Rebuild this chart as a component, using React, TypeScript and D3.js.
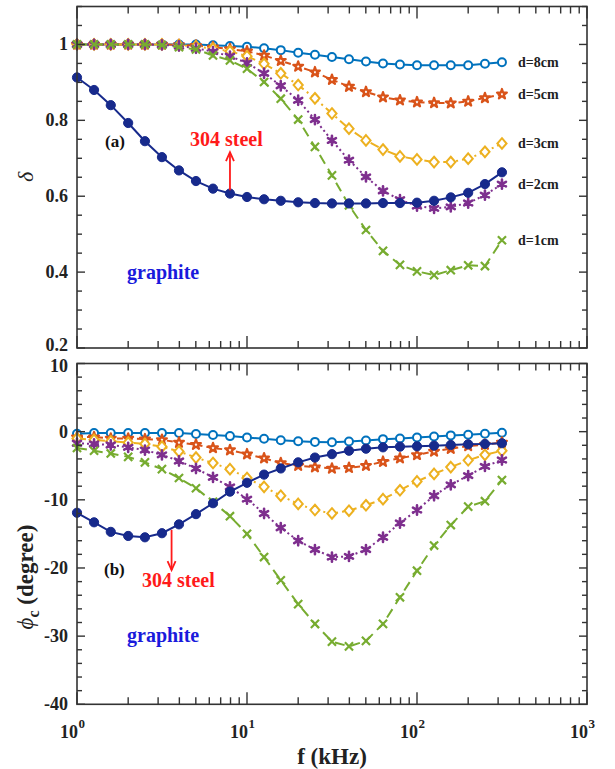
import React from 'react';
import * as d3 from 'd3';

const freq = [1, 1.26, 1.58, 2, 2.51, 3.16, 3.98, 5.01, 6.31, 7.94, 10, 12.6, 15.8, 20, 25.1, 31.6, 39.8, 50.1, 63.1, 79.4, 100, 126, 158, 200, 251, 316];

const deltaGraphite = [0.913, 0.88, 0.84, 0.793, 0.745, 0.703, 0.668, 0.64, 0.62, 0.607, 0.598, 0.592, 0.588, 0.584, 0.582, 0.581, 0.581, 0.581, 0.582, 0.582, 0.583, 0.588, 0.597, 0.609, 0.632, 0.663];
const deltaD8 = [1, 1, 1, 1, 1, 1, 1, 1, 0.998, 0.996, 0.994, 0.99, 0.985, 0.978, 0.973, 0.967, 0.961, 0.955, 0.95, 0.947, 0.945, 0.945, 0.945, 0.945, 0.949, 0.953];
const deltaD5 = [1, 1, 1, 1, 1, 1, 0.999, 0.997, 0.993, 0.988, 0.982, 0.971, 0.957, 0.942, 0.927, 0.907, 0.889, 0.875, 0.861, 0.853, 0.848, 0.846, 0.845, 0.85, 0.859, 0.869];
const deltaD3 = [1, 1, 1, 1, 1, 1, 0.998, 0.995, 0.989, 0.982, 0.969, 0.949, 0.924, 0.893, 0.858, 0.818, 0.778, 0.747, 0.723, 0.705, 0.697, 0.69, 0.69, 0.699, 0.717, 0.739];
const deltaD2 = [1, 1, 1, 1, 1, 0.999, 0.996, 0.99, 0.981, 0.969, 0.951, 0.924, 0.891, 0.853, 0.802, 0.747, 0.695, 0.651, 0.614, 0.591, 0.574, 0.568, 0.572, 0.582, 0.603, 0.632];
const deltaD1 = [1, 1, 1, 1, 1, 0.998, 0.993, 0.987, 0.971, 0.958, 0.936, 0.901, 0.857, 0.802, 0.73, 0.655, 0.576, 0.511, 0.456, 0.419, 0.402, 0.392, 0.405, 0.418, 0.416, 0.484];

const phiGraphite = [-11.9, -13.3, -14.7, -15.3, -15.5, -14.9, -13.6, -12.1, -10.5, -8.8, -7.5, -6.3, -5.4, -4.5, -3.8, -3.3, -2.8, -2.5, -2.3, -2.2, -2.15, -2.05, -1.95, -1.85, -1.8, -1.7];
const phiD8 = [-0.3, -0.2, -0.2, -0.2, -0.2, -0.2, -0.2, -0.35, -0.5, -0.65, -0.85, -1.05, -1.25, -1.4, -1.5, -1.55, -1.45, -1.3, -1.1, -1.0, -0.85, -0.7, -0.55, -0.45, -0.3, -0.15];
const phiD5 = [-0.8, -0.8, -1.0, -1.0, -1.1, -1.2, -1.6, -1.9, -2.4, -2.7, -3.3, -3.9, -4.6, -5.0, -5.2, -5.4, -5.3, -5.0, -4.4, -3.9, -3.4, -2.9, -2.5, -2.1, -1.9, -1.6];
const phiD3 = [-1.0, -1.2, -1.4, -1.6, -1.8, -2.2, -2.9, -3.8, -4.6, -5.5, -6.8, -8.1, -9.4, -10.6, -11.5, -12.0, -11.6, -10.8, -9.9, -8.6, -7.3, -6.2, -5.2, -4.2, -3.4, -2.8];
const phiD2 = [-1.7, -1.8, -1.95, -2.3, -2.7, -3.4, -4.3, -5.4, -6.7, -8.1, -9.9, -12.0, -14.1, -16.0, -17.3, -18.4, -18.3, -17.3, -15.5, -13.4, -11.5, -9.4, -7.8, -6.45, -5.1, -4.15];
const phiD1 = [-2.4, -2.8, -3.2, -3.7, -4.5, -5.5, -6.8, -8.3, -10.3, -12.4, -15.0, -18.4, -21.8, -25.3, -28.2, -30.8, -31.5, -30.7, -28.2, -24.3, -20.4, -16.7, -13.7, -11.0, -10.2, -7.1];

const seriesNames = ['d=8cm', 'd=5cm', 'd=3cm', 'd=2cm', 'd=1cm', 'graphite'];
const deltaSeries = [deltaD8, deltaD5, deltaD3, deltaD2, deltaD1, deltaGraphite];
const phiSeries = [phiD8, phiD5, phiD3, phiD2, phiD1, phiGraphite];
const labelValues = [0.953, 0.869, 0.739, 0.632, 0.484];

const xTickLabels = ['0', '1', '2', '3'];
const deltaTicks = [0.2, 0.4, 0.6, 0.8, 1];
const deltaTickLabels = ['0.2', '0.4', '0.6', '0.8', '1'];
const phiTicks = [-40, -30, -20, -10, 0, 10];
const phiTickLabels = ['-40', '-30', '-20', '-10', '0', '10'];

const styles = [
  { color: '#0072BD', dash: null, marker: 'circle' },
  { color: '#D95319', dash: '6,4', marker: 'star' },
  { color: '#EDB120', dash: '9,4,2,4', marker: 'diamond' },
  { color: '#7E2F8E', dash: '2,3', marker: 'asterisk' },
  { color: '#77AC30', dash: '10,6', marker: 'times' },
  { color: '#172a8c', dash: null, marker: 'dot' },
];

const FONT = "'Liberation Serif', 'Times New Roman', 'DejaVu Serif', serif";
const AX = '#333';
const L = 77, R = 587;

const x = d3.scaleLog().domain([1, 1000]).range([L, R]);
const yTop = d3.scaleLinear().domain([0.2, 1.1]).range([348, 6.5]);
const yBot = d3.scaleLinear().domain([-40, 10]).range([704.3, 363.5]);

const starPath = d3.symbol().type(d3.symbolStar).size(30)()!;
const diamondPath = 'M0,-5.3L4.6,0L0,5.3L-4.6,0Z';
const asteriskPath = d3.symbol().type(d3.symbolAsterisk).size(60)()!;
const timesPath = d3.symbol().type(d3.symbolTimes).size(45)()!;

function Marker({ kind, color, cx, cy }: { kind: string; color: string; cx: number; cy: number }) {
  const t = `translate(${cx},${cy})`;
  switch (kind) {
    case 'circle':
      return <circle cx={cx} cy={cy} r={4} fill="white" stroke={color} strokeWidth={2} />;
    case 'dot':
      return <circle cx={cx} cy={cy} r={4.6} fill={color} stroke={color} strokeWidth={1} />;
    case 'star':
      return <path d={starPath} transform={t} fill="white" stroke={color} strokeWidth={2.2} strokeLinejoin="round" />;
    case 'diamond':
      return <path d={diamondPath} transform={t} fill="white" stroke={color} strokeWidth={2} />;
    case 'asterisk':
      return (
        <g>
          <circle cx={cx} cy={cy} r={2.5} fill={color} />
          <path d={asteriskPath} transform={t} fill="none" stroke={color} strokeWidth={2.6} strokeLinecap="round" />
        </g>
      );
    case 'times':
      return <path d={timesPath} transform={t} fill="none" stroke={color} strokeWidth={2.2} />;
    default:
      return null;
  }
}

function Panel({ y, data, ticks, tickLabels, minorStep, showXLabels, labelShift }: any) {
  const [y0, y1] = y.range();
  const [d0, d1] = y.domain();
  const minor: number[] = [];
  for (let v = d0; v <= d1 + 1e-9; v += minorStep) minor.push(+v.toFixed(4));
  const xMinor: number[] = [];
  [1, 10, 100].forEach((p) => { for (let m = 2; m <= 9; m++) xMinor.push(p * m); });
  const xMajor = [1, 10, 100, 1000];
  const line = d3.line<number>().x((_, i) => x(freq[i])).y((v) => y(v));
  return (
    <g>
      {data.map((s: number[], si: number) => (
        <g key={si}>
          <path d={line(s)!} fill="none" stroke={styles[si].color} strokeWidth={2} strokeDasharray={styles[si].dash || undefined} />
          {s.map((v, i) => (
            <Marker key={i} kind={styles[si].marker} color={styles[si].color} cx={x(freq[i])} cy={y(v)} />
          ))}
        </g>
      ))}
      <rect x={L} y={y1} width={R - L} height={y0 - y1} fill="none" stroke={AX} strokeWidth={1.6} />
      {minor.map((v, i) => {
        const isMajor = ticks.some((t: number) => Math.abs(t - v) < 1e-6);
        const len = isMajor ? 8 : 5;
        return (
          <g key={'ym' + i}>
            <line x1={L} x2={L + len} y1={y(v)} y2={y(v)} stroke={AX} strokeWidth={1.4} />
            <line x1={R} x2={R - len} y1={y(v)} y2={y(v)} stroke={AX} strokeWidth={1.4} />
          </g>
        );
      })}
      {xMinor.map((f, i) => (
        <g key={'xm' + i}>
          <line x1={x(f)} x2={x(f)} y1={y0} y2={y0 - 7} stroke={AX} strokeWidth={1.4} />
          <line x1={x(f)} x2={x(f)} y1={y1} y2={y1 + 7} stroke={AX} strokeWidth={1.4} />
        </g>
      ))}
      {xMajor.map((f, i) => (
        <g key={'xM' + i}>
          <line x1={x(f)} x2={x(f)} y1={y0} y2={y0 - 12} stroke={AX} strokeWidth={1.4} />
          <line x1={x(f)} x2={x(f)} y1={y1} y2={y1 + 12} stroke={AX} strokeWidth={1.4} />
        </g>
      ))}
      {ticks.map((t: number, i: number) => (
        <text key={'yl' + i} x={L - 9} y={y(t) + 6 + (labelShift[i] || 0)} textAnchor="end" fontFamily={FONT} fontWeight="bold" fontSize={18} fill="#222">
          {tickLabels[i]}
        </text>
      ))}
      {showXLabels && xMajor.map((f, i) => (
        <g key={'xl' + i} fontFamily={FONT} fontWeight="bold" fill="#222">
          <text x={x(f) + 1} y={738} textAnchor="end" fontSize={18}>10</text>
          <text x={x(f) + 1.5} y={728} fontSize={13}>{xTickLabels[i]}</text>
        </g>
      ))}
    </g>
  );
}

export default function App() {
  const lblX = 518;
  return (
    <svg width={615} height={769} style={{ position: 'absolute', left: 0, top: 0, background: 'white' }}>
      <rect width={615} height={769} fill="white" />
      <Panel y={yTop} data={deltaSeries} ticks={deltaTicks} tickLabels={deltaTickLabels} minorStep={0.05} showXLabels={false} labelShift={[-3, 0, 0, 0, 0]} />
      <Panel y={yBot} data={phiSeries} ticks={phiTicks} tickLabels={phiTickLabels} minorStep={2} showXLabels={true} labelShift={[0, 0, 0, 0, 0, 2]} />

      {labelValues.map((v, i) => (
        <text key={i} x={lblX} y={yTop(v) + 5} fontFamily={FONT} fontWeight="bold" fontSize={14} fill="#222">
          {seriesNames[i]}
        </text>
      ))}

      <text x={105} y={147} fontFamily={FONT} fontWeight="bold" fontSize={17} fill="#111">(a)</text>
      <text x={190} y={146} fontFamily={FONT} fontWeight="bold" fontSize={20} fill="#ff1a1a">304 steel</text>
      <line x1={x(7.94)} x2={x(7.94)} y1={yTop(0.616)} y2={yTop(0.716)} stroke="#ff1a1a" strokeWidth={1.8} />
      <path d={`M${x(7.94) - 4},${yTop(0.716) + 9} L${x(7.94)},${yTop(0.716)} L${x(7.94) + 4},${yTop(0.716) + 9}`} fill="none" stroke="#ff1a1a" strokeWidth={1.8} />
      <text x={127} y={279} fontFamily={FONT} fontWeight="bold" fontSize={20} fill="#1a1adc">graphite</text>

      <text x={104} y={575} fontFamily={FONT} fontWeight="bold" fontSize={17} fill="#111">(b)</text>
      <line x1={x(3.6)} x2={x(3.6)} y1={yBot(-14.4)} y2={yBot(-20.3)} stroke="#ff1a1a" strokeWidth={1.8} />
      <path d={`M${x(3.6) - 4},${yBot(-20.3) - 9} L${x(3.6)},${yBot(-20.3)} L${x(3.6) + 4},${yBot(-20.3) - 9}`} fill="none" stroke="#ff1a1a" strokeWidth={1.8} />
      <text x={142} y={587} fontFamily={FONT} fontWeight="bold" fontSize={20} fill="#ff1a1a">304 steel</text>
      <text x={127} y={642} fontFamily={FONT} fontWeight="bold" fontSize={20} fill="#1a1adc">graphite</text>

      <text transform="translate(33,177) rotate(-90)" textAnchor="middle" fontFamily={FONT} fontStyle="italic" fontSize={22} fill="#222">δ</text>
      <text transform="translate(33,577) rotate(-90)" textAnchor="middle" fontFamily={FONT} fontWeight="bold" fontSize={23} fill="#222">
        <tspan fontStyle="italic" fontWeight="normal">ϕ</tspan>
        <tspan fontSize={16} dy={6}>c</tspan>
        <tspan dy={-6}> (degree)</tspan>
      </text>
      <text x={332} y={764} textAnchor="middle" fontFamily={FONT} fontWeight="bold" fontSize={23} fill="#222">f (kHz)</text>
    </svg>
  );
}
